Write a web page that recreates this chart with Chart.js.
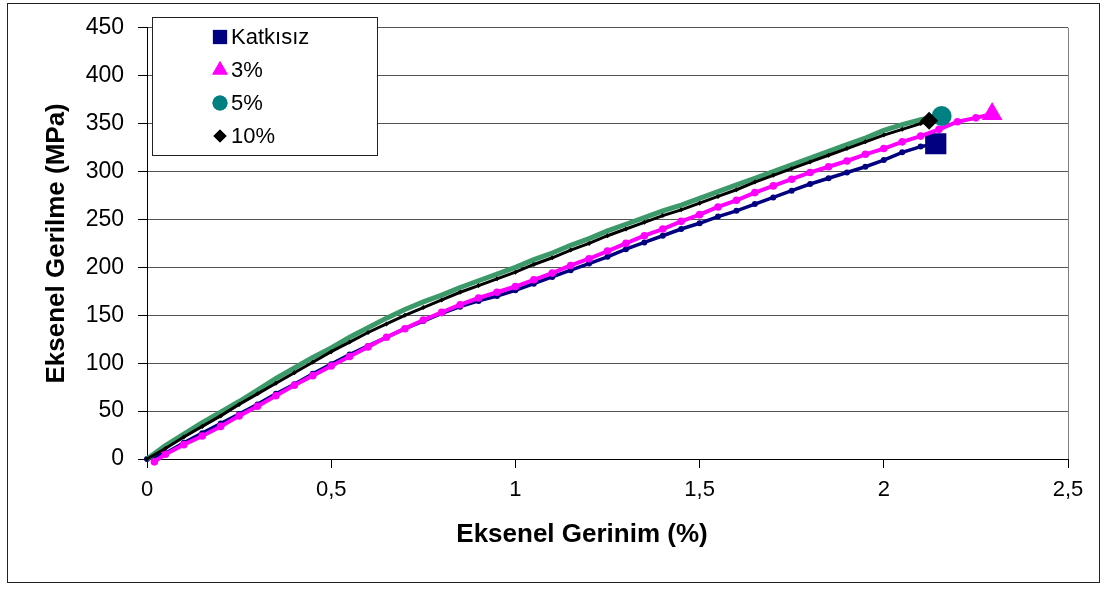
<!DOCTYPE html>
<html>
<head>
<meta charset="utf-8">
<script src="https://cdn.jsdelivr.net/npm/chart.js@4.4.1/dist/chart.umd.min.js"></script>
<style>
  html, body { margin: 0; padding: 0; background: #fff; }
  #kutu { position: relative; width: 1107px; height: 590px; }
  #cerceve { position: absolute; left: 7px; top: 3px; width: 1091px; height: 578px; border: 1px solid #222; pointer-events: none; }
</style>
</head>
<body>
<div id="kutu">
  <canvas id="grafik" width="1107" height="590"></canvas>
  <div id="cerceve"></div>
</div>
<script>
// Eksenel gerinim (%) ve eksenel gerilme (MPa) değerleri
const etiketler = ['Katkısız', '3%', '5%', '10%'];
const xEtiketleri = ['0', '0,5', '1', '1,5', '2', '2,5'];
const xBaslik = 'Eksenel Gerinim (%)';
const yBaslik = 'Eksenel Gerilme (MPa)';

const katkisizX = [0,0.05,0.1,0.15,0.2,0.25,0.3,0.35,0.4,0.45,0.5,0.55,0.6,0.65,0.7,0.75,0.8,0.85,0.9,0.95,1.0,1.05,1.1,1.15,1.2,1.25,1.3,1.35,1.4,1.45,1.5,1.55,1.6,1.65,1.7,1.75,1.8,1.85,1.9,1.95,2.0,2.05,2.1,2.141];
const katkisizY = [0,6,17,27,37,47,57,68,78,89,99,109,118,127,136,144,152,159,165,170,176,183,190,197,204,211,219,226,233,240,246,253,259,266,273,280,287,293,299,305,312,320,326,329];

const yuzde3X = [0.02,0.05,0.1,0.15,0.2,0.25,0.3,0.35,0.4,0.45,0.5,0.55,0.6,0.65,0.7,0.75,0.8,0.85,0.9,0.95,1.0,1.05,1.1,1.15,1.2,1.25,1.3,1.35,1.4,1.45,1.5,1.55,1.6,1.65,1.7,1.75,1.8,1.85,1.9,1.95,2.0,2.05,2.1,2.15,2.2,2.25,2.294];
const yuzde3Y = [-3,5,15,24,34,45,55,66,77,87,97,107,117,127,136,145,153,161,168,174,180,187,194,202,209,217,225,233,240,248,255,263,270,278,285,292,299,305,311,318,324,331,337,344,352,356,360];

const yuzde5X = [0,0.05,0.1,0.15,0.2,0.25,0.3,0.35,0.4,0.45,0.5,0.55,0.6,0.65,0.7,0.75,0.8,0.85,0.9,0.95,1.0,1.05,1.1,1.15,1.2,1.25,1.3,1.35,1.4,1.45,1.5,1.55,1.6,1.65,1.7,1.75,1.8,1.85,1.9,1.95,2.0,2.05,2.1,2.157];
const yuzde5Y = [0,14,26,38,49,60,72,84,95,106,116,127,137,147,156,164,171,179,186,193,200,208,215,223,230,238,245,252,259,265,272,279,286,293,300,307,314,321,328,335,343,349,354,358];

const yuzde10X = [0,0.05,0.1,0.15,0.2,0.25,0.3,0.35,0.4,0.45,0.5,0.55,0.6,0.65,0.7,0.75,0.8,0.85,0.9,0.95,1.0,1.05,1.1,1.15,1.2,1.25,1.3,1.35,1.4,1.45,1.5,1.55,1.6,1.65,1.7,1.75,1.8,1.85,1.9,1.95,2.0,2.05,2.1,2.123];
const yuzde10Y = [0,11,23,34,45,57,68,79,90,101,112,122,132,141,150,158,166,174,181,188,195,203,210,218,225,233,240,247,254,260,267,274,281,289,296,303,310,317,324,331,338,344,350,353];

function noktalar(xs, ys) {
  return xs.map((x, i) => ({ x: x, y: ys[i] }));
}

// son noktada büyük işaret, diğerlerinde küçük
function sonBuyuk(kucuk, buyuk) {
  return ctx => ctx.dataIndex === ctx.dataset.data.length - 1 ? buyuk : kucuk;
}

const seriler = [
  { label: etiketler[0], data: noktalar(katkisizX, katkisizY), borderColor: '#000080', backgroundColor: '#000080',
    borderWidth: 3.5, pointStyle: sonBuyuk('circle', 'rect'), pointRadius: sonBuyuk(3, 15),
    legendStil: 'rect', legendR: 10, order: 4 },
  { label: etiketler[1], data: noktalar(yuzde3X, yuzde3Y), borderColor: '#ff00ff', backgroundColor: '#ff00ff',
    borderWidth: 4, pointStyle: sonBuyuk('circle', 'triangle'), pointRadius: sonBuyuk(3.8, 12),
    legendStil: 'triangle', legendR: 9, order: 3 },
  { label: etiketler[2], data: noktalar(yuzde5X, yuzde5Y), borderColor: '#3c9a6a', backgroundColor: '#008080',
    borderWidth: 5, pointStyle: 'circle', pointRadius: sonBuyuk(0, 10),
    legendStil: 'circle', legendR: 7.5, order: 2 },
  { label: etiketler[3], data: noktalar(yuzde10X, yuzde10Y), borderColor: '#000000', backgroundColor: '#000000',
    borderWidth: 3, pointStyle: sonBuyuk('rectRot', 'rectRot'), pointRadius: sonBuyuk(2.5, 9),
    legendStil: 'rectRot', legendR: 6.5, order: 1 }
];

const yaziTipi = '"Liberation Sans", Arial, sans-serif';

// çizim alanının sağ kenarı, x ekseni başlığı ve sol üstteki açıklama kutusu
const aciklamaEklentisi = {
  id: 'aciklama',
  afterDraw(chart) {
    const c = chart.ctx;
    const a = chart.chartArea;
    c.save();
    c.strokeStyle = '#808080';
    c.lineWidth = 1;
    c.beginPath();
    c.moveTo(a.right + 0.5, a.top);
    c.lineTo(a.right + 0.5, a.bottom);
    c.stroke();

    c.fillStyle = '#000';
    c.font = 'bold 26px ' + yaziTipi;
    c.textAlign = 'center';
    c.textBaseline = 'middle';
    c.fillText(xBaslik, 582, 535);

    c.fillStyle = '#ffffff';
    c.fillRect(152, 17, 225, 138);
    c.strokeStyle = '#222';
    c.strokeRect(152.5, 17.5, 225, 138);

    c.font = '22px ' + yaziTipi;
    c.textAlign = 'left';
    seriler.forEach((s, i) => {
      const y = 37 + i * 33;
      c.fillStyle = s.backgroundColor;
      c.strokeStyle = s.backgroundColor;
      Chart.helpers.drawPoint(c, { pointStyle: s.legendStil, radius: s.legendR, rotation: 0, borderWidth: 0 }, 220, y);
      c.fill();
      c.fillStyle = '#000';
      c.fillText(s.label, 231, y + 1);
    });
    c.restore();
  }
};

Chart.defaults.font.family = yaziTipi;
Chart.defaults.color = '#000';

new Chart(document.getElementById('grafik'), {
  type: 'line',
  data: {
    datasets: seriler.map(s => Object.assign({ fill: false, tension: 0, clip: 12, pointBorderWidth: 0 }, s))
  },
  options: {
    responsive: false,
    animation: false,
    layout: { padding: { left: 0, top: 24, right: 39, bottom: 0 } },
    plugins: { legend: { display: false }, tooltip: { enabled: false } },
    scales: {
      x: {
        type: 'linear',
        min: 0, max: 2.5,
        afterFit: sc => { sc.height = 131; },
        ticks: {
          stepSize: 0.5,
          font: { size: 22 },
          padding: 9,
          maxRotation: 0,
          callback: (v, i) => xEtiketleri[i]
        },
        grid: { drawOnChartArea: false, drawTicks: true, tickLength: 9, tickColor: '#000' },
        border: { color: '#000', width: 1 }
      },
      y: {
        min: 0, max: 450,
        afterFit: sc => { sc.width = 147; },
        ticks: { stepSize: 50, font: { size: 23 }, padding: 14 },
        grid: { color: '#555', lineWidth: 1, drawTicks: true, tickLength: 9, tickColor: '#000' },
        border: { color: '#000', width: 1 },
        title: { display: true, text: yBaslik, font: { size: 26, weight: 'bold' }, padding: { top: 41, bottom: 0 } }
      }
    }
  },
  plugins: [aciklamaEklentisi]
});
</script>
</body>
</html>
